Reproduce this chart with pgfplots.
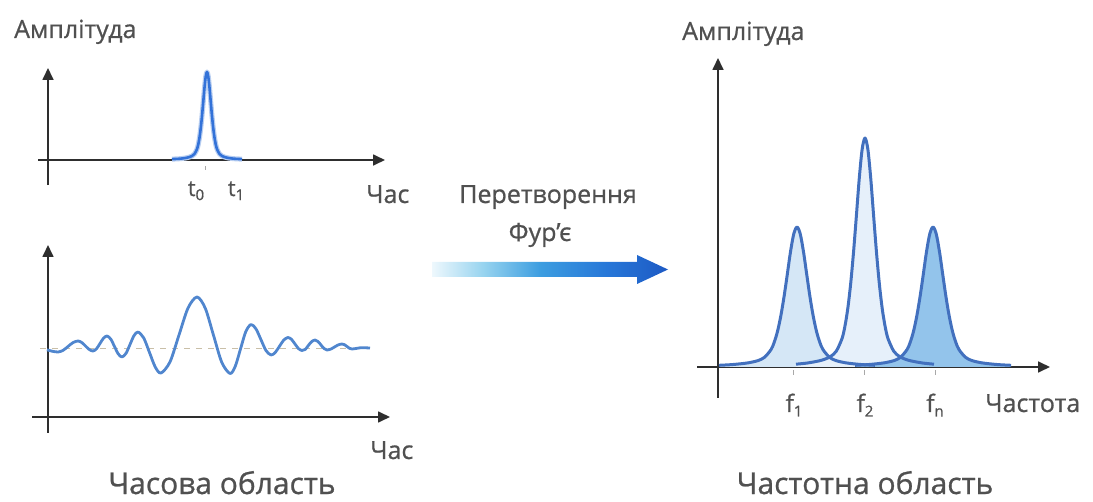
\documentclass[border=0pt]{standalone}
\usepackage{fontspec}
\setmainfont{Open Sans}[FakeBold=0.8]
\usepackage{pgfplots}
\usepackage{pgfplotstable}
\pgfplotsset{compat=1.18}
\usetikzlibrary{arrows.meta}

\definecolor{axc}{HTML}{2E2E2E}
\definecolor{txt}{HTML}{505050}
\definecolor{pk}{HTML}{4270BE}
\definecolor{wave}{HTML}{5086CE}
\definecolor{topc}{HTML}{3372D8}
\definecolor{fa}{HTML}{D5E7F6}
\definecolor{fb}{HTML}{E6F0FA}
\definecolor{fc}{HTML}{93C4EB}
\definecolor{dashc}{HTML}{C9BFA8}
\definecolor{tickc}{HTML}{A8A8A8}
\definecolor{arA}{HTML}{EEF8FD}
\definecolor{arB}{HTML}{96D3EF}
\definecolor{arC}{HTML}{3C9DE0}
\definecolor{arD}{HTML}{2777D8}
\definecolor{arE}{HTML}{1D5AC4}
\pgfdeclarehorizontalshading{fourier}{100bp}{color(0bp)=(arA); color(25bp)=(arA); color(36bp)=(arB); color(48bp)=(arC); color(62bp)=(arD); color(75bp)=(arE); color(100bp)=(arE)}

% time-domain pulse
\pgfplotstableread{
x y
124 0.9
129 1.1
134 1.5
139 2.3
141.5 3.0
144 4.0
146.5 6.1
149 10.9
150.25 15.6
151.5 22.4
152.75 31.9
154 44
155.25 58.1
156.5 72.4
157.75 83.6
159 88
160.25 83.6
161.5 72.4
162.75 58.1
164 44
165.25 31.9
166.5 22.4
167.75 15.6
169 10.9
171.5 6.1
174 4.0
176.5 3.0
179 2.3
184 1.5
189 1.1
194 0.9
}\pulse

% time-domain oscillating signal
\pgfplotstableread{
x y
-1 67.2
4 65.8
10 65
15 66.6
20 70.5
25 74.4
30 76
33.75 74.5
37.5 71
41.25 67.5
45 66
48.5 68.2
52 73.5
55.5 78.8
59 81
62.75 77.9
66.5 70.5
70.25 63.1
74 60
78 63.65
82 72.5
86 81.35
90 85
95.75 79.0
101.5 64.5
107.25 50.0
113 44
122 55.1
131 82
140 108.9
149 120
157.25 108.8
165.5 81.75
173.75 54.7
182 43.5
187.25 50.7
192.5 68
197.75 85.3
203 92.5
208 88.05
213 77.25
218 66.45
223 62
227.25 64.55
231.5 70.75
235.75 76.95
240 79.5
243.5 77.6
247 73
250.5 68.4
254 66.5
257.25 67.55
260.5 71.75
263.75 75.45
267 77
270 75.5
273 72
276 68.5
279 67
282.75 67.9
286.5 70
290.25 72.1
294 73
296.5 72.3
299 70.5
301.5 68.7
304 68
308.5 68.6
313 69.3
317.5 69.2
322 69
}\wavesig

% frequency peaks
\pgfplotstableread{
x y
1 1.7
14 2.4
27 3.7
33.5 4.8
40 6.4
46.5 9.7
53 17.4
56.25 24.8
59.5 35.6
62.75 50.7
66 70
69.25 92.4
72.5 115.2
75.75 133.0
79 140
82.25 133.0
85.5 115.2
88.75 92.4
92 70
95.25 50.7
98.5 35.6
101.75 24.8
105 17.4
111.5 9.7
118 6.4
124.5 4.8
131 3.7
144 2.4
157 1.7
}\peakA

\pgfplotstableread{
x y
78 2.8
89.5 4.0
101 6.1
106.75 7.8
112.5 10.5
118.25 15.8
124 28.4
126.875 40.5
129.75 58.2
132.625 82.9
135.5 114.5
138.375 151.1
141.25 188.5
144.125 217.6
147 229
149.875 217.6
152.75 188.5
155.625 151.1
158.5 114.5
161.375 82.9
164.25 58.2
167.125 40.5
170 28.4
175.75 15.8
181.5 10.5
187.25 7.8
193 6.1
204.5 4.0
216 2.8
}\peakB

\pgfplotstableread{
x y
137 1.7
150 2.4
163 3.7
169.5 4.8
176 6.4
182.5 9.7
189 17.4
192.25 24.8
195.5 35.6
198.75 50.7
202 70
205.25 92.4
208.5 115.2
211.75 133.0
215 140
218.25 133.0
221.5 115.2
224.75 92.4
228 70
231.25 50.7
234.5 35.6
237.75 24.8
241 17.4
247.5 9.7
254 6.4
260.5 4.8
267 3.7
280 2.4
293 1.7
}\peakC

\pgfplotsset{
  diag/.style={
    scale only axis, anchor=north west, clip=false,
    axis lines=middle, xtick=\empty, ytick=\empty,
    axis line style={draw=axc, line width=1.7pt},
    every inner x axis line/.append style={-{Triangle[length=12pt,width=11pt]}},
    every inner y axis line/.append style={-{Triangle[length=12pt,width=11pt]}},
  }
}

\newcommand\mylbl{\fontsize{25}{30}\selectfont}
\newcommand\myarea{\fontsize{30}{36}\selectfont}
\newcommand\mysub[1]{\raisebox{-0.35ex}{\fontsize{15}{15}\selectfont #1}}

\begin{document}
\begin{tikzpicture}
\path[use as bounding box] (0pt,0pt) rectangle (1093pt,-502pt);

% ---------- top-left: pulse ----------
\begin{axis}[diag, at={(38pt,-68pt)}, width=347pt, height=117pt,
  xmin=-10, xmax=337, ymin=-25, ymax=92]
  \addplot[topc!35, line width=5pt, smooth, line join=round] table {\pulse};
  \addplot[topc, line width=2.6pt, smooth, line join=round] table {\pulse};
  \draw[tickc, line width=1pt] (axis cs:157,-6) -- (axis cs:157,-10);
\end{axis}

% ---------- bottom-left: signal ----------
\begin{axis}[diag, at={(32pt,-245pt)}, width=358pt, height=188pt,
  xmin=-16, xmax=342, ymin=-16, ymax=172]
  \addplot[dashc, line width=1.3pt, dash pattern=on 6pt off 6pt] coordinates {(-8,68.5) (322,68.5)};
  \addplot[wave, line width=2.8pt, smooth, line join=round] table {\wavesig};
\end{axis}

% ---------- right: spectrum ----------
\begin{axis}[diag, at={(697pt,-58pt)}, width=353pt, height=340pt,
  xmin=-21, xmax=332, ymin=-31, ymax=309]
  \addplot[draw=none, fill=fa, smooth] table {\peakA} \closedcycle;
  \addplot[draw=none, fill=fb, smooth] table {\peakB} \closedcycle;
  \addplot[draw=none, fill=fc, smooth] table {\peakC} \closedcycle;
  \addplot[pk, line width=3pt, smooth, line join=round] table {\peakA};
  \addplot[pk, line width=3pt, smooth, line join=round] table {\peakB};
  \addplot[pk, line width=3pt, smooth, line join=round] table {\peakC};
  \draw[tickc, line width=1pt] (axis cs:75,-3) -- (axis cs:75,-8);
  \draw[tickc, line width=1pt] (axis cs:146,-3) -- (axis cs:146,-8);
  \draw[tickc, line width=1pt] (axis cs:217,-3) -- (axis cs:217,-8);
\end{axis}

% ---------- arrow ----------
\shade[shading=fourier] (432pt,-262pt) -- (637pt,-262pt) -- (637pt,-255pt) -- (668pt,-269.5pt) -- (637pt,-284pt) -- (637pt,-277pt) -- (432pt,-277pt) -- cycle;

% ---------- texts ----------
\begin{scope}[every node/.style={inner sep=0pt, text=txt}]
\node[anchor=base west] at (14pt,-38pt) {\mylbl Амплітуда};
\node[anchor=base west] at (366pt,-203pt) {\mylbl Час};
\node[anchor=base] at (196pt,-196pt) {\fontsize{22}{26}\selectfont t\mysub{0}};
\node[anchor=base] at (236pt,-196pt) {\fontsize{22}{26}\selectfont t\mysub{1}};
\node[anchor=base west] at (370pt,-459pt) {\mylbl Час};
\node[anchor=base] at (222pt,-494pt) {\myarea Часова область};

\node[anchor=base] at (548pt,-203pt) {\mylbl Перетворення};
\node[anchor=base] at (540pt,-241pt) {\mylbl Фур’є};

\node[anchor=base west] at (682pt,-40pt) {\mylbl Амплітуда};
\node[anchor=base] at (794pt,-412pt) {\fontsize{24}{28}\selectfont f\mysub{1}};
\node[anchor=base] at (865pt,-412pt) {\fontsize{24}{28}\selectfont f\mysub{2}};
\node[anchor=base] at (935pt,-412pt) {\fontsize{24}{28}\selectfont f\mysub{n}};
\node[anchor=base west] at (985pt,-412pt) {\mylbl Частота};
\node[anchor=base] at (865pt,-494pt) {\myarea Частотна область};
\end{scope}
\end{tikzpicture}
\end{document}
